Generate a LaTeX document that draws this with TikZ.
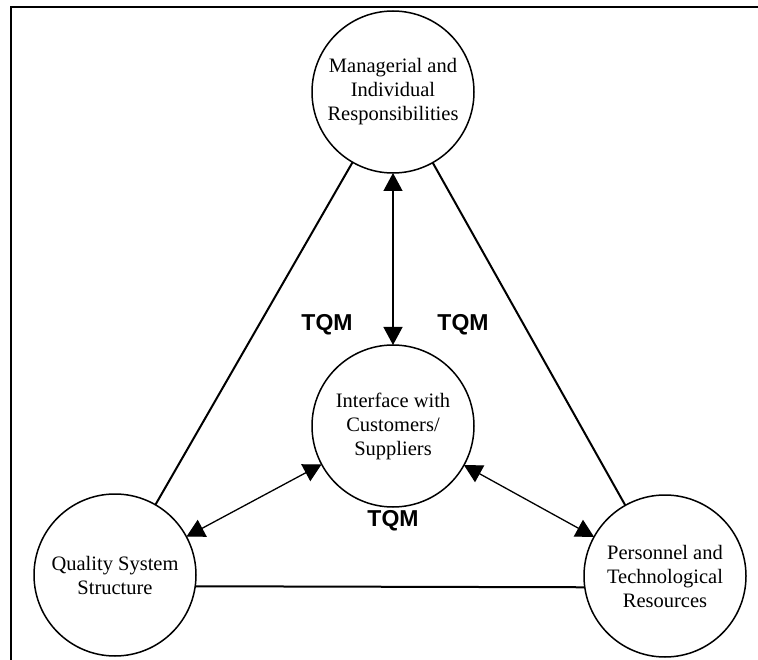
\documentclass[tikz,border=0pt]{standalone}
\usepackage{fontspec}
\setmainfont{Liberation Serif}
\newfontfamily\tqmfont{Liberation Sans}
\usetikzlibrary{arrows.meta}

\tikzset{
  topic/.style={circle, draw=black, line width=1.5pt, minimum size=162pt,
    inner sep=0pt, outer sep=0pt, align=center,
    font=\fontsize{20.5}{24}\selectfont},
  side/.style={line width=2pt},
  link/.style={line width=1.3pt,
    {Triangle[width=19pt,length=18pt]}-{Triangle[width=19pt,length=18pt]}},
  tqm/.style={font=\tqmfont\bfseries\fontsize{23}{27}\selectfont},
  frame/.style={line width=2.5pt}
}

\begin{document}
\begin{tikzpicture}[x=1pt, y=-1pt]
  \useasboundingbox (0,0) rectangle (758,660);

  % open frame: top and left edges
  \coordinate (fa) at (11,660);
  \coordinate (fb) at (11,7);
  \coordinate (fc) at (758,7);
  \draw[frame] (fa) -- (fb) -- (fc);

  % the four topics
  \node[topic] (mgr) at (393,92)  {Managerial and\\Individual\\Responsibilities};
  \node[topic] (ifc) at (393,426) {Interface with\\Customers/\\Suppliers};
  \node[topic] (qss) at (115,575) {Quality System\\Structure};
  \node[topic] (ptr) at (665,576) {Personnel and\\Technological\\Resources};

  % triangle sides
  \draw[side] (mgr) -- (qss);
  \draw[side] (mgr) -- (ptr);
  \draw[side] (qss.-8) -- (ptr.188);

  % two-way links to the interface
  \draw[link] (mgr) -- (ifc);
  \draw[link] (ifc) -- (qss);
  \draw[link] (ifc) -- (ptr);

  % TQM labels
  \node[tqm] (t1) at (327,325) {TQM};
  \node[tqm] (t2) at (463,325) {TQM};
  \node[tqm] (t3) at (393,521) {TQM};
\end{tikzpicture}
\end{document}
